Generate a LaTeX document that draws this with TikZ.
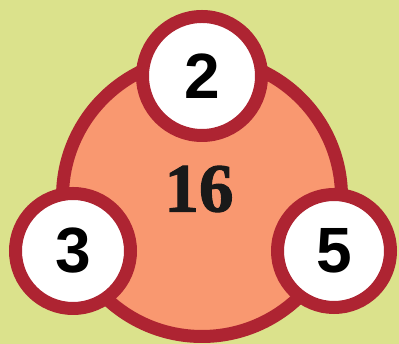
\documentclass[tikz,border=0pt]{standalone}
\usepackage{fontspec}
\setmainfont{Liberation Sans}
\newfontfamily\numserif[BoldFeatures={FakeBold=1.6}]{Liberation Serif}
\definecolor{bgcol}{RGB}{219,226,140}
\definecolor{salmon}{RGB}{249,152,112}
\definecolor{ringred}{RGB}{174,36,50}
\tikzset{
  bigring/.style={circle, draw=ringred, fill=salmon, line width=13pt, inner sep=0pt},
  smallring/.style={circle, draw=ringred, fill=white, line width=13pt, inner sep=0pt, font=\fontsize{64}{64}\selectfont\bfseries},
  centernum/.style={inner sep=0pt, text=black!90, font=\numserif\fontsize{69}{69}\selectfont\bfseries}
}
\begin{document}
\begin{tikzpicture}[x=1pt,y=1pt]
\fill[bgcol] (0,0) rectangle (399,344);
\useasboundingbox (0,0) rectangle (399,344);
\node[bigring, minimum size=279pt] (big) at (202,147) {};
\node[centernum] (total) at (199,155) {16};
\node[smallring, minimum size=119pt] (top) at (202,268) {2};
\node[smallring, minimum size=115pt] (left) at (73,93) {3};
\node[smallring, minimum size=113pt] (right) at (334,93) {5};
\end{tikzpicture}
\end{document}
